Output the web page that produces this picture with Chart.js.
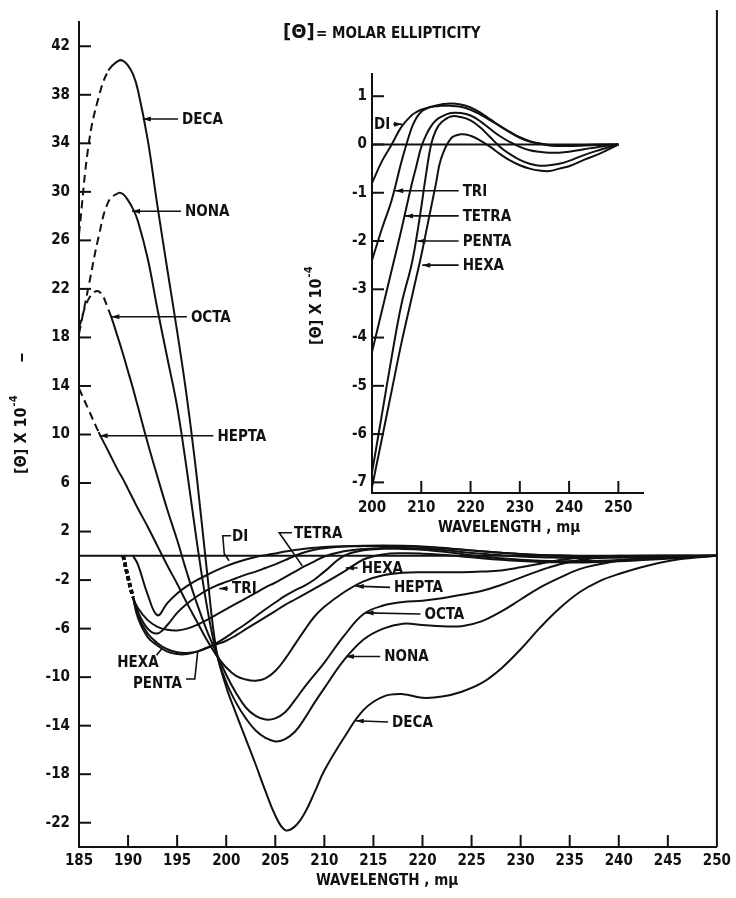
<!DOCTYPE html>
<html>
<head>
<meta charset="utf-8">
<script src="https://cdn.jsdelivr.net/npm/chart.js@4.4.1/dist/chart.umd.min.js"></script>
<style>
  html, body { margin: 0; padding: 0; background: #fff; }
  #wrap { position: relative; width: 736px; height: 898px; }
  #main { position: absolute; left: 0; top: 0; }
  #inset { position: absolute; left: 300px; top: 60px; }
</style>
</head>
<body>
<div id="wrap">
  <canvas id="main" width="736" height="898"></canvas>
  <canvas id="inset" width="360" height="480"></canvas>
</div>
<script>
// main chart, wavelength in m\u03bc, [theta] x 10^-4
const mainWave = [185, 186, 187, 188, 189, 189.5, 190, 190.5, 191, 192, 193, 194, 195, 196, 197, 198, 199, 200,
  201, 202, 203, 204, 205, 206, 207, 208, 209, 210, 212, 214, 216, 218, 220, 222, 224, 226, 228, 230,
  232, 234, 236, 238, 240, 243, 246, 250];

const deca = [26.5, 34.0, 37.8, 40.0, 40.8, 40.8, 40.4, 39.7, 38.4, 34.3, 28.8, 23.6, 18.5, 13.0, 6.5, -1.0, -7.8, -10.8,
  -13.0, -15.1, -17.2, -19.4, -21.4, -22.6, -22.3, -21.2, -19.5, -17.7, -15.0, -12.7, -11.6, -11.4, -11.7, -11.6, -11.2, -10.5, -9.3, -7.7,
  -5.9, -4.3, -3.0, -2.1, -1.5, -0.8, -0.3, 0];
const nona = [18.3, 22.3, 26.3, 29.2, 29.9, 29.8, 29.3, 28.6, 27.6, 24.5, 20.3, 16.3, 12.3, 7.0, 1.2, -4.0, -8.0, -10.4,
  -12.1, -13.4, -14.4, -15.0, -15.3, -15.1, -14.5, -13.4, -12.1, -10.9, -8.6, -6.9, -6.0, -5.6, -5.7, -5.8, -5.8, -5.4, -4.6, -3.6,
  -2.6, -1.8, -1.1, -0.7, -0.4, -0.2, -0.05, 0];
const octa = [18.8, 21.2, 21.8, 20.3, 17.9, 16.6, 15.2, 13.8, 12.3, 9.3, 6.5, 3.8, 1.3, -1.4, -3.9, -6.1, -8.0, -9.8,
  -11.3, -12.5, -13.2, -13.5, -13.4, -12.9, -11.9, -10.8, -9.8, -8.8, -6.6, -4.8, -4.1, -3.8, -3.7, -3.5, -3.2, -2.9, -2.4, -1.8,
  -1.2, -0.7, -0.35, -0.15, -0.05, 0, 0, 0];
const hepta = [13.8, 12.0, 10.2, 8.6, 7.0, 6.3, 5.5, 4.7, 3.9, 2.4, 0.8, -0.8, -2.3, -3.9, -5.4, -6.9, -8.2, -9.2,
  -9.9, -10.2, -10.3, -10.1, -9.5, -8.5, -7.3, -6.1, -5.0, -4.2, -3.0, -2.1, -1.6, -1.4, -1.35, -1.35, -1.35, -1.3, -1.2, -0.95,
  -0.65, -0.35, -0.15, -0.05, 0, 0, 0, 0];
const hexa = [null, null, null, null, null, 0, -1.8, -3.4, -5.1, -6.7, -7.4, -7.9, -8.1, -8.1, -7.9, -7.6, -7.3, -7.0,
  -6.55, -6.05, -5.55, -5.05, -4.55, -4.05, -3.6, -3.15, -2.7, -2.25, -1.3, -0.3, 0.12, 0.21, 0.18, 0.08, -0.05, -0.2, -0.33, -0.43,
  -0.5, -0.54, -0.55, -0.5, -0.45, -0.32, -0.2, 0];
const penta = [null, null, null, null, null, 0, -1.8, -3.4, -4.9, -6.4, -7.2, -7.7, -7.95, -8.0, -7.9, -7.6, -7.2, -6.7,
  -6.15, -5.6, -5.0, -4.4, -3.85, -3.3, -2.85, -2.45, -1.95, -1.3, 0.0, 0.45, 0.58, 0.57, 0.5, 0.35, 0.15, -0.05, -0.2, -0.32,
  -0.4, -0.44, -0.43, -0.4, -0.34, -0.22, -0.12, 0];
const tetra = [null, null, null, null, null, 0, -1.8, -3.4, -4.3, -5.3, -5.85, -6.1, -6.15, -6.0, -5.7, -5.3, -4.85, -4.4,
  -3.95, -3.5, -3.05, -2.6, -2.2, -1.75, -1.3, -0.85, -0.45, -0.05, 0.38, 0.57, 0.65, 0.65, 0.6, 0.48, 0.32, 0.17, 0.05, -0.05,
  -0.12, -0.15, -0.17, -0.17, -0.15, -0.1, -0.05, 0];
const tri = [null, null, null, null, null, 0, -1.8, -3.4, -4.6, -6.0, -6.4, -5.7, -4.7, -3.95, -3.35, -2.85, -2.45, -2.15,
  -1.85, -1.55, -1.3, -1.0, -0.7, -0.35, 0.0, 0.3, 0.5, 0.63, 0.76, 0.83, 0.85, 0.83, 0.77, 0.66, 0.52, 0.38, 0.25, 0.14,
  0.06, 0.02, -0.02, -0.03, -0.03, -0.02, -0.01, 0];
const di = [null, null, null, null, null, null, null, 0, -0.7, -3.2, -4.9, -3.9, -3.1, -2.5, -2.0, -1.6, -1.2, -0.85,
  -0.55, -0.3, -0.1, 0.05, 0.2, 0.35, 0.48, 0.58, 0.66, 0.72, 0.78, 0.8, 0.8, 0.78, 0.72, 0.62, 0.5, 0.38, 0.26, 0.15,
  0.07, 0.02, -0.01, -0.02, -0.02, -0.01, 0, 0];

const mainXTicks = [185, 190, 195, 200, 205, 210, 215, 220, 225, 230, 235, 240, 245, 250];
const mainYTicks = [42, 38, 34, 30, 26, 22, 18, 14, 10, 6, 2, -2, -6, -10, -14, -18, -22];

// inset
const insetWave = [200, 202, 204, 206, 208, 209, 210, 211, 212, 213, 214, 216, 218, 220, 222, 224, 226, 228, 230, 232,
  234, 236, 238, 240, 243, 246, 250];
const insetDi = [-0.8, -0.35, 0, 0.37, 0.6, 0.67, 0.72, 0.75, 0.78, 0.79, 0.8, 0.8, 0.78, 0.72, 0.62, 0.5, 0.38, 0.26, 0.15, 0.07,
  0.02, -0.01, -0.02, -0.02, -0.01, 0, 0];
const insetTri = [-2.4, -1.75, -1.15, -0.35, 0.33, 0.55, 0.68, 0.74, 0.78, 0.81, 0.83, 0.85, 0.83, 0.77, 0.66, 0.52, 0.38, 0.25, 0.14, 0.06,
  0.02, -0.02, -0.03, -0.03, -0.02, -0.01, 0];
const insetTetra = [-4.3, -3.45, -2.6, -1.75, -0.85, -0.45, -0.05, 0.2, 0.38, 0.5, 0.57, 0.65, 0.65, 0.6, 0.48, 0.32, 0.17, 0.05, -0.05, -0.12,
  -0.15, -0.17, -0.17, -0.15, -0.1, -0.05, 0];
const insetPenta = [-6.8, -5.6, -4.4, -3.3, -2.5, -1.95, -1.3, -0.6, 0.0, 0.3, 0.45, 0.58, 0.57, 0.5, 0.35, 0.15, -0.05, -0.2, -0.32, -0.4,
  -0.44, -0.43, -0.4, -0.34, -0.22, -0.12, 0];
const insetHexa = [-7.1, -6.1, -5.1, -4.1, -3.2, -2.75, -2.3, -1.8, -1.3, -0.8, -0.3, 0.12, 0.21, 0.18, 0.08, -0.05, -0.2, -0.33, -0.43, -0.5,
  -0.54, -0.55, -0.5, -0.45, -0.32, -0.2, 0];

const insetXTicks = [200, 210, 220, 230, 240, 250];
const insetYTicks = [1, 0, -1, -2, -3, -4, -5, -6, -7];

const ink = '#111';
const family = '"DejaVu Sans Condensed", "Liberation Sans Narrow", "Liberation Sans", sans-serif';
const labelFont = 'bold 15px ' + family;

// curve labels, [wavelength, value] anchors
const mainArrows = [
  { text: 'DECA', tip: [191.5, 36.0], at: [195.5, 36.0] },
  { text: 'NONA', tip: [190.4, 28.4], at: [195.8, 28.4] },
  { text: 'OCTA', tip: [188.3, 19.7], at: [196.4, 19.7] },
  { text: 'HEPTA', tip: [187.1, 9.9], at: [199.1, 9.9] },
  { text: 'TRI', tip: [199.3, -2.7], at: [200.6, -2.7] },
  { text: 'HEXA', tip: [212.2, -1.0], at: [213.8, -1.0] },
  { text: 'HEPTA', tip: [213.2, -2.5], at: [217.1, -2.6] },
  { text: 'OCTA', tip: [214.2, -4.7], at: [220.2, -4.8] },
  { text: 'NONA', tip: [212.2, -8.3], at: [216.1, -8.3] },
  { text: 'DECA', tip: [213.2, -13.6], at: [216.9, -13.7] }
];
const mainLeaders = [
  { text: 'DI', at: [200.6, 1.6], path: [[200.5, 1.65], [199.65, 1.65], [199.8, 0.17], [200.3, -0.41]] },
  { text: 'TETRA', at: [206.9, 1.9], path: [[206.7, 1.9], [205.4, 1.9], [207.75, -0.83]] },
  { text: 'HEXA', at: [188.9, -8.8], path: [[192.9, -8.2], [193.5, -7.6]] },
  { text: 'PENTA', at: [190.5, -10.5], path: [[195.9, -10.15], [196.8, -10.15], [197.1, -7.85]] }
];
const insetArrows = [
  { text: 'DI', tip: [206.1, 0.42], at: [203.7, 0.42], align: 'right' },
  { text: 'TRI', tip: [204.7, -0.96], at: [218.4, -0.96] },
  { text: 'TETRA', tip: [206.7, -1.48], at: [218.4, -1.48] },
  { text: 'PENTA', tip: [209.2, -2.0], at: [218.4, -2.0] },
  { text: 'HEXA', tip: [210.2, -2.5], at: [218.4, -2.5] }
];

function toPoints(xs, ys) {
  return xs.map((x, i) => ({ x: x, y: ys[i] })).filter(p => p.y !== null);
}

function series(xs, ys, dashUntil, heavy) {
  return {
    data: toPoints(xs, ys),
    borderColor: ink,
    borderWidth: 2,
    pointRadius: 0,
    fill: false,
    tension: 0.4,
    segment: {
      borderDash: c => (c.p1.parsed.x <= dashUntil ? (heavy ? [4, 3] : [8, 5]) : undefined),
      borderWidth: c => (heavy && c.p1.parsed.x <= dashUntil ? 3.5 : undefined)
    }
  };
}

function seg(ctx, pts) {
  ctx.beginPath();
  ctx.moveTo(pts[0][0], pts[0][1]);
  for (let i = 1; i < pts.length; i++) ctx.lineTo(pts[i][0], pts[i][1]);
  ctx.stroke();
}

function arrowHead(ctx, fx, fy, tx, ty) {
  const a = Math.atan2(ty - fy, tx - fx);
  ctx.beginPath();
  ctx.moveTo(tx, ty);
  ctx.lineTo(tx - 8 * Math.cos(a) + 2.5 * Math.sin(a), ty - 8 * Math.sin(a) - 2.5 * Math.cos(a));
  ctx.lineTo(tx - 8 * Math.cos(a) - 2.5 * Math.sin(a), ty - 8 * Math.sin(a) + 2.5 * Math.cos(a));
  ctx.closePath();
  ctx.fill();
}

function drawArrows(chart, list) {
  const { ctx, scales: { x, y } } = chart;
  ctx.font = labelFont;
  ctx.textBaseline = 'middle';
  list.forEach(l => {
    const tx = x.getPixelForValue(l.tip[0]), ty = y.getPixelForValue(l.tip[1]);
    const ax = x.getPixelForValue(l.at[0]), ay = y.getPixelForValue(l.at[1]);
    const right = l.align === 'right';
    ctx.textAlign = right ? 'right' : 'left';
    ctx.fillText(l.text, ax, ay + 1);
    const sx = right ? ax + 3 : ax - 4;
    ctx.lineWidth = 1.6;
    seg(ctx, [[sx, ay], [tx, ty]]);
    arrowHead(ctx, sx, ay, tx, ty);
  });
}

function drawLeaders(chart, list) {
  const { ctx, scales: { x, y } } = chart;
  ctx.font = labelFont;
  ctx.textBaseline = 'middle';
  ctx.textAlign = 'left';
  list.forEach(l => {
    ctx.fillText(l.text, x.getPixelForValue(l.at[0]), y.getPixelForValue(l.at[1]) + 1);
    ctx.lineWidth = 1.6;
    seg(ctx, l.path.map(p => [x.getPixelForValue(p[0]), y.getPixelForValue(p[1])]));
  });
}

function thetaTitle(ctx, cx, cy, tail) {
  ctx.save();
  ctx.translate(cx, cy);
  ctx.rotate(-Math.PI / 2);
  ctx.textAlign = 'left';
  ctx.textBaseline = 'middle';
  ctx.font = 'bold 16px ' + family;
  const base = '[\u0398] X 10';
  ctx.fillText(base, 0, 0);
  const w = ctx.measureText(base).width;
  ctx.font = 'bold 11px ' + family;
  ctx.fillText('-4', w + 1, -8);
  if (tail) {
    ctx.lineWidth = 2;
    seg(ctx, [[w + 46, 0], [w + 54, 0]]);
  }
  ctx.restore();
}

function inwardTicks(chart, xt, yt) {
  const { ctx, chartArea: a, scales: { x, y } } = chart;
  ctx.lineWidth = 2;
  yt.forEach(v => {
    const py = y.getPixelForValue(v);
    seg(ctx, [[a.left, py], [a.left + 12, py]]);
  });
  xt.forEach(v => {
    const px = x.getPixelForValue(v);
    seg(ctx, [[px, a.bottom], [px, a.bottom - 12]]);
  });
}

const mainDecor = {
  id: 'mainDecor',
  afterDraw(chart) {
    const { ctx, chartArea: a, scales: { x, y } } = chart;
    ctx.save();
    ctx.strokeStyle = ink;
    ctx.fillStyle = ink;
    ctx.lineWidth = 2;
    const zy = y.getPixelForValue(0);
    seg(ctx, [[a.left, zy], [a.right, zy]]);
    seg(ctx, [[a.right, 10], [a.right, a.bottom]]);
    inwardTicks(chart, mainXTicks.filter(v => v > 185 && v < 250), mainYTicks);

    // title
    ctx.textBaseline = 'middle';
    ctx.textAlign = 'left';
    ctx.font = 'bold 20px ' + family;
    ctx.fillText('[\u0398]', 283, 33);
    ctx.font = 'bold 15px ' + family;
    ctx.fillText('= MOLAR ELLIPTICITY', 316, 34);

    // axis titles
    ctx.textAlign = 'center';
    ctx.fillText('WAVELENGTH , m\u03bc', 387, 881);
    thetaTitle(ctx, 22, 474, true);

    drawArrows(chart, mainArrows);
    drawLeaders(chart, mainLeaders);
    ctx.restore();
  }
};

const insetDecor = {
  id: 'insetDecor',
  afterDraw(chart) {
    const { ctx, chartArea: a, scales: { x, y } } = chart;
    ctx.save();
    ctx.strokeStyle = ink;
    ctx.fillStyle = ink;
    ctx.lineWidth = 2;
    const zy = y.getPixelForValue(0);
    seg(ctx, [[a.left, zy], [x.getPixelForValue(250), zy]]);
    inwardTicks(chart, insetXTicks.filter(v => v > 200), insetYTicks);

    ctx.textBaseline = 'middle';
    ctx.textAlign = 'center';
    ctx.font = 'bold 15px ' + family;
    ctx.fillText('WAVELENGTH , m\u03bc', 209, 468);
    thetaTitle(ctx, 17, 285, false);

    drawArrows(chart, insetArrows);
    ctx.restore();
  }
};

function axisOpts(min, max, tickList, size, pad, isY) {
  return {
    type: 'linear',
    min: min,
    max: max,
    afterBuildTicks: s => { s.ticks = tickList.map(v => ({ value: v })); },
    afterFit: s => { if (isY) s.width = size; else s.height = size; },
    grid: { display: false, drawTicks: false },
    border: { display: true, color: ink, width: 2 },
    ticks: {
      padding: pad,
      color: ink,
      autoSkip: false,
      maxRotation: 0,
      font: { family: family, size: 15, weight: 'bold' }
    }
  };
}

const mainSeries = [
  series(mainWave, deca, 188, false),
  series(mainWave, nona, 189, false),
  series(mainWave, octa, 188, false),
  series(mainWave, hepta, 187, false),
  series(mainWave, hexa, 190.5, true),
  series(mainWave, penta, 190.5, true),
  series(mainWave, tetra, 190.5, true),
  series(mainWave, tri, 190.5, true),
  series(mainWave, di, 0, false)
];

new Chart(document.getElementById('main'), {
  type: 'line',
  data: { datasets: mainSeries },
  options: {
    responsive: false,
    animation: false,
    devicePixelRatio: 1,
    layout: { padding: { top: 22, right: 17, left: 0, bottom: 0 } },
    plugins: { legend: { display: false }, tooltip: { enabled: false } },
    scales: {
      x: axisOpts(185, 250, mainXTicks, 51, 5, false),
      y: axisOpts(-24, 44, mainYTicks, 79, 9, true)
    }
  },
  plugins: [mainDecor]
});

const insetSeries = [insetDi, insetTri, insetTetra, insetPenta, insetHexa].map(v => series(insetWave, v, 0, false));

new Chart(document.getElementById('inset'), {
  type: 'line',
  data: { datasets: insetSeries },
  options: {
    responsive: false,
    animation: false,
    devicePixelRatio: 1,
    layout: { padding: { top: 13, right: 17, left: 0, bottom: 0 } },
    plugins: { legend: { display: false }, tooltip: { enabled: false } },
    scales: {
      x: axisOpts(200, 255, insetXTicks, 47, 6, false),
      y: axisOpts(-7.22, 1.46, insetYTicks, 72, 5, true)
    }
  },
  plugins: [insetDecor]
});
</script>
</body>
</html>
